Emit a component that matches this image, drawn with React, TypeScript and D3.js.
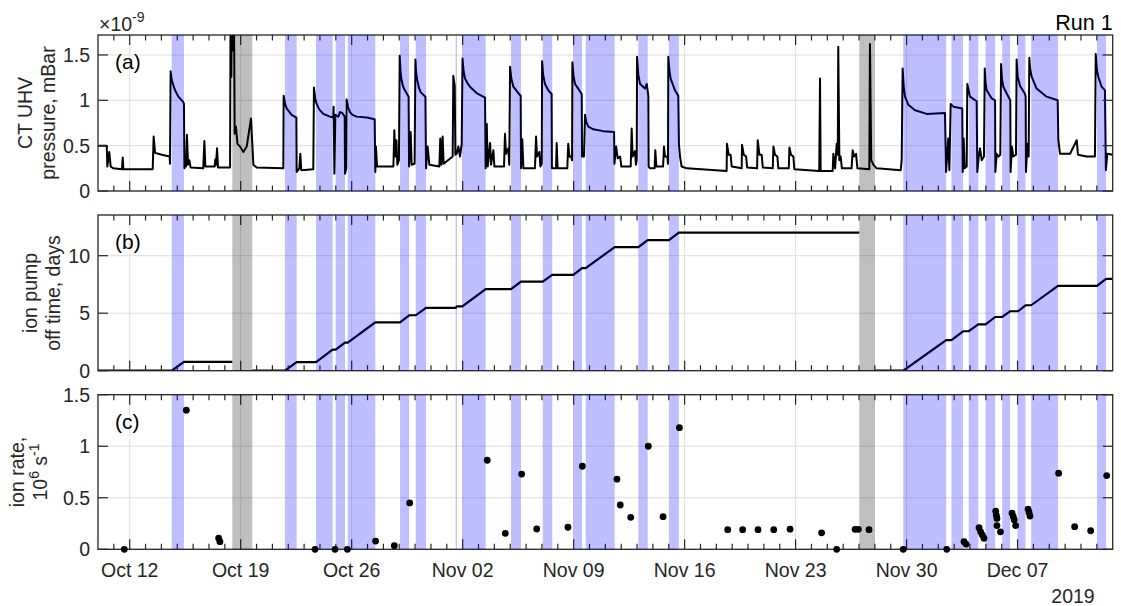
import React from "react";
import * as d3 from "d3";

const startMs = Date.UTC(2019, 9, 10);
const endMs = Date.UTC(2019, 11, 13);
const DAY = 86400000;
const toDate = (d: number) => new Date(startMs + d * DAY);

// shaded periods (days since Oct 10 2019)
const blueSpans: [number, number][] = [
  [4.65, 5.42], [11.79, 12.53], [13.75, 14.8], [14.99, 15.58], [15.75, 17.49],
  [19.05, 19.62], [20.04, 20.69], [22.56, 22.64], [22.98, 24.45], [26.05, 26.68],
  [28.05, 28.65], [29.98, 30.53], [30.76, 32.59], [34.08, 34.67], [36.01, 36.64],
  [50.79, 53.5], [53.83, 54.56], [54.92, 55.52], [55.98, 56.59], [57.03, 57.53],
  [58.03, 58.5], [58.86, 60.55], [63.01, 63.58],
];
const graySpans: [number, number][] = [[8.47, 9.73], [48.02, 49.01]];

// CT UHV pressure, units of 1e-9 mBar
const pressure: [number, number][] = [
  [0,0.50],[0.55,0.50],[0.59,0.27],[0.71,0.43],[0.80,0.27],[0.97,0.25],[1.51,0.24],[1.56,0.37],[1.60,0.24],[3.45,0.24],[3.51,0.60],[3.60,0.42],[4.02,0.40],[4.52,0.38],[4.54,0.30],[4.58,1.32],[4.63,1.25],[4.69,1.20],[4.78,1.15],[4.86,1.11],[5.07,1.04],[5.38,0.98],[5.42,0.96],[5.45,0.25],[5.51,0.38],[5.55,0.27],[5.61,0.62],[5.68,0.29],[5.76,0.34],[5.84,0.26],[6.64,0.25],[6.71,0.55],[6.77,0.27],[7.36,0.27],[7.40,0.35],[7.44,0.29],[7.51,0.47],[7.57,0.26],[8.33,0.26],[8.37,2.5],[8.41,1.26],[8.45,2.5],[8.50,1.55],[8.56,2.5],[8.62,0.63],[8.70,0.71],[8.80,0.52],[8.96,0.49],[9.17,0.43],[9.38,0.49],[9.65,0.80],[9.80,0.29],[10.01,0.26],[11.69,0.25],[11.71,1.05],[11.80,0.96],[11.90,0.91],[12.21,0.84],[12.51,0.81],[12.53,0.21],[12.70,0.25],[12.76,0.41],[12.82,0.23],[13.58,0.24],[13.62,1.14],[13.70,1.02],[13.79,0.96],[13.95,0.90],[14.21,0.85],[14.63,0.82],[14.84,0.81],[14.86,0.93],[14.91,0.19],[14.97,0.84],[15.16,0.82],[15.26,0.87],[15.41,0.86],[15.56,0.82],[15.58,0.19],[15.66,0.25],[15.68,1.01],[15.78,0.92],[15.89,0.87],[16.05,0.84],[16.31,0.82],[16.95,0.81],[17.45,0.79],[17.49,0.21],[17.53,0.49],[17.60,0.27],[18.63,0.27],[18.69,0.67],[18.75,0.38],[18.82,0.56],[18.88,0.29],[18.98,0.34],[19.03,1.49],[19.08,1.32],[19.15,1.22],[19.25,1.15],[19.36,1.11],[19.59,1.04],[19.62,0.27],[19.72,0.65],[19.78,0.29],[19.97,0.30],[20.02,1.45],[20.07,1.30],[20.14,1.22],[20.24,1.14],[20.35,1.09],[20.65,1.04],[20.69,0.25],[20.79,0.49],[20.90,0.29],[21.53,0.27],[21.59,0.58],[21.66,0.29],[21.74,0.60],[21.80,0.30],[22.37,0.38],[22.41,1.27],[22.50,1.16],[22.54,0.40],[22.62,0.41],[22.73,0.49],[22.83,0.38],[22.94,0.52],[22.99,1.46],[23.06,1.32],[23.15,1.24],[23.30,1.19],[23.46,1.15],[23.88,1.08],[24.41,1.03],[24.45,0.25],[24.52,0.74],[24.58,0.27],[24.73,0.53],[24.79,0.29],[24.94,0.45],[25.00,0.27],[25.61,0.27],[25.67,0.63],[25.73,0.41],[25.88,0.47],[25.94,0.29],[25.99,1.37],[26.07,1.24],[26.20,1.15],[26.51,1.08],[26.66,1.05],[26.68,0.25],[26.76,0.57],[26.83,0.25],[27.56,0.25],[27.63,0.60],[27.69,0.38],[27.84,0.43],[27.90,0.27],[27.99,0.30],[28.01,1.43],[28.08,1.28],[28.19,1.18],[28.40,1.11],[28.61,1.07],[28.63,0.25],[28.89,0.25],[28.93,0.53],[28.99,0.25],[29.60,0.25],[29.66,0.52],[29.73,0.38],[29.85,0.38],[29.90,0.34],[29.92,1.42],[29.99,1.27],[30.09,1.18],[30.36,1.11],[30.51,1.07],[30.53,0.38],[30.65,0.38],[30.72,0.84],[30.80,0.76],[30.93,0.71],[31.24,0.68],[31.87,0.66],[32.55,0.65],[32.57,0.30],[32.68,0.49],[32.78,0.36],[32.93,0.38],[33.01,0.27],[33.60,0.27],[33.66,0.69],[33.72,0.38],[33.87,0.44],[33.93,0.29],[33.98,0.34],[34.00,1.48],[34.08,1.28],[34.19,1.18],[34.50,1.13],[34.61,1.18],[34.71,1.05],[34.73,0.27],[34.82,0.25],[35.11,0.25],[35.15,0.45],[35.22,0.27],[35.64,0.27],[35.70,0.49],[35.76,0.38],[35.91,0.38],[35.95,0.30],[35.97,1.48],[36.04,1.33],[36.12,1.24],[36.39,1.11],[36.60,1.05],[36.64,0.52],[36.71,0.38],[36.81,0.27],[37.13,0.25],[39.65,0.22],[39.67,0.52],[39.78,0.40],[39.90,0.40],[39.97,0.27],[40.60,0.25],[40.62,0.51],[40.73,0.40],[40.88,0.38],[40.94,0.26],[41.57,0.25],[41.61,0.56],[41.72,0.40],[41.86,0.40],[41.93,0.26],[42.56,0.25],[42.60,0.49],[42.70,0.40],[42.85,0.38],[42.91,0.25],[43.57,0.25],[43.61,0.48],[43.71,0.40],[43.86,0.38],[43.92,0.24],[45.49,0.22],[45.54,1.24],[45.58,0.22],[46.34,0.22],[46.38,0.41],[46.49,0.25],[46.59,0.52],[46.66,0.40],[46.69,1.59],[46.76,0.34],[46.84,0.38],[46.92,0.25],[47.53,0.25],[47.60,0.45],[47.68,0.38],[47.81,0.41],[47.90,0.25],[48.65,0.24],[48.69,1.62],[48.77,0.34],[48.90,0.29],[49.11,0.25],[50.63,0.23],[50.69,0.34],[50.75,1.35],[50.82,1.15],[50.90,1.04],[51.11,0.95],[51.53,0.89],[52.27,0.85],[53.42,0.86],[53.49,0.21],[53.63,0.58],[53.70,0.23],[53.78,0.96],[53.95,0.93],[54.51,0.91],[54.54,0.21],[54.60,0.58],[54.66,0.25],[54.79,0.27],[54.83,1.18],[55.00,1.04],[55.42,0.99],[55.46,0.21],[55.55,0.38],[55.63,0.47],[55.74,0.34],[55.88,0.38],[55.93,1.35],[55.98,1.20],[56.05,1.11],[56.37,1.02],[56.58,1.00],[56.60,0.21],[56.68,0.41],[56.79,0.38],[56.91,0.40],[56.96,1.40],[57.02,1.23],[57.10,1.15],[57.42,1.04],[57.54,1.00],[57.56,0.21],[57.64,0.49],[57.73,0.38],[57.90,0.40],[57.94,1.45],[58.01,1.26],[58.15,1.16],[58.47,1.07],[58.51,1.04],[58.53,0.21],[58.62,0.52],[58.70,0.38],[58.74,1.47],[58.80,1.34],[58.89,1.26],[59.20,1.13],[59.83,1.04],[60.53,1.00],[60.57,0.56],[60.68,0.41],[61.31,0.41],[61.73,0.56],[61.81,0.40],[62.35,0.38],[62.88,0.38],[62.93,1.51],[63.00,1.34],[63.09,1.26],[63.30,1.15],[63.51,1.11],[63.57,0.23],[63.66,0.41],[64.0,0.40],
];

// ion pump off time, days (three separate runs of the counter)
const offTimeA: [number, number][] = [[0, 0], [4.65, 0], [5.42, 0.77], [8.47, 0.77]];
const offTimeB: [number, number][] = [
  [9.73, 0], [11.79, 0], [12.53, 0.75], [13.75, 0.75], [14.8, 1.83], [14.99, 1.83], [15.58, 2.45],
  [15.75, 2.45], [17.49, 4.2], [19.05, 4.2], [19.62, 4.82], [20.04, 4.82], [20.69, 5.47], [22.56, 5.47],
  [22.64, 5.6], [22.98, 5.6], [24.45, 7.1], [26.05, 7.1], [26.68, 7.75], [28.05, 7.75], [28.65, 8.33],
  [29.98, 8.33], [30.53, 8.92], [30.76, 8.92], [32.59, 10.75], [34.08, 10.75], [34.67, 11.36],
  [36.01, 11.36], [36.64, 12.0], [48.02, 12.0],
];
const offTimeC: [number, number][] = [
  [49.01, 0], [50.79, 0], [53.5, 2.66], [53.83, 2.66], [54.56, 3.43], [54.92, 3.43], [55.52, 4.03],
  [55.98, 4.03], [56.59, 4.67], [57.03, 4.67], [57.53, 5.17], [58.03, 5.17], [58.5, 5.69], [58.86, 5.69],
  [60.55, 7.37], [63.01, 7.37], [63.58, 7.98], [64, 7.98],
];

// ion rate, 1e6 / s
const ionRate: [number, number][] = [
  [1.66, 0], [5.57, 1.35], [7.61, 0.107], [7.69, 0.074], [13.69, 0], [14.95, 0], [15.73, 0], [17.51, 0.08],
  [18.69, 0.035], [19.66, 0.45], [24.55, 0.864], [25.69, 0.155], [26.72, 0.73], [27.67, 0.197],
  [29.64, 0.214], [30.55, 0.806], [32.73, 0.68], [32.94, 0.43], [33.6, 0.31], [34.71, 1.0], [35.64, 0.317],
  [36.67, 1.18], [39.72, 0.19], [40.66, 0.19], [41.63, 0.19], [42.62, 0.19], [43.65, 0.195], [45.64, 0.16],
  [46.59, 0], [47.75, 0.194], [47.96, 0.194], [48.63, 0.19], [50.79, 0], [53.53, 0], [54.62, 0.074],
  [54.75, 0.05], [55.57, 0.21], [55.67, 0.17], [55.77, 0.14], [55.88, 0.107], [56.62, 0.37], [56.66, 0.33],
  [56.7, 0.3], [56.7, 0.23], [56.92, 0.17], [57.65, 0.35], [57.73, 0.317], [57.79, 0.285], [57.88, 0.23],
  [58.66, 0.39], [58.72, 0.36], [58.78, 0.323], [60.59, 0.738], [61.6, 0.22], [62.61, 0.18], [63.62, 0.715],
];

const xTickLabels = ["Oct 12", "Oct 19", "Oct 26", "Nov 02", "Nov 09", "Nov 16", "Nov 23", "Nov 30", "Dec 07"];
const yTicksA = [0, 0.5, 1, 1.5];
const yTicksB = [0, 5, 10];
const yTicksC = [0, 0.5, 1, 1.5];

const W = 1121, H = 606;
const X0 = 98, X1 = 1112.7;
const FONT = "'Liberation Sans', Arial, Helvetica, sans-serif";
const FS = 19.5;
const AX = "#262626";

const x = d3.scaleUtc().domain([new Date(startMs), new Date(endMs)]).range([X0, X1]);
const majorDates = d3.utcDay.range(new Date(Date.UTC(2019, 9, 12)), new Date(endMs), 7);
const minorDates = d3.utcDay.range(new Date(startMs + DAY), new Date(endMs));
const fmt = d3.utcFormat("%b %d");

type PanelProps = {
  id: string; top: number; bottom: number; ymax: number; yTicks: number[]; label: string;
  children: (y: d3.ScaleLinear<number, number>) => React.ReactNode;
  xLabels?: boolean;
};

function Panel({ id, top, bottom, ymax, yTicks, label, children, xLabels }: PanelProps) {
  const y = d3.scaleLinear().domain([0, ymax]).range([bottom, top]);
  const majorTimes = new Set(majorDates.map((d) => d.getTime()));
  return (
    <g>
      <defs>
        <clipPath id={id}>
          <rect x={X0} y={top} width={X1 - X0} height={bottom - top} />
        </clipPath>
      </defs>
      {majorDates.map((d, i) => (
        <line key={"gx" + i} x1={x(d)} x2={x(d)} y1={top} y2={bottom} stroke="#dfdfdf" strokeWidth={1} />
      ))}
      {yTicks.map((t, i) => (
        <line key={"gy" + i} x1={X0} x2={X1} y1={y(t)} y2={y(t)} stroke="#dfdfdf" strokeWidth={1} />
      ))}
      <g clipPath={`url(#${id})`}>{children(y)}</g>
      {minorDates.filter((d) => !majorTimes.has(d.getTime())).map((d, i) => (
        <g key={"mt" + i}>
          <line x1={x(d)} x2={x(d)} y1={bottom} y2={bottom - 5.5} stroke={AX} strokeWidth={1.2} />
          <line x1={x(d)} x2={x(d)} y1={top} y2={top + 5.5} stroke={AX} strokeWidth={1.2} />
        </g>
      ))}
      {majorDates.map((d, i) => (
        <g key={"Mt" + i}>
          <line x1={x(d)} x2={x(d)} y1={bottom} y2={bottom - 10} stroke={AX} strokeWidth={1.2} />
          <line x1={x(d)} x2={x(d)} y1={top} y2={top + 10} stroke={AX} strokeWidth={1.2} />
        </g>
      ))}
      {yTicks.map((t, i) => (
        <g key={"yt" + i}>
          <line x1={X0} x2={X0 + 10} y1={y(t)} y2={y(t)} stroke={AX} strokeWidth={1.2} />
          <line x1={X1} x2={X1 - 10} y1={y(t)} y2={y(t)} stroke={AX} strokeWidth={1.2} />
          <text x={90} y={y(t)} dy="0.36em" textAnchor="end" fontSize={FS} fill={AX} fontFamily={FONT}>
            {String(t)}
          </text>
        </g>
      ))}
      <rect x={X0} y={top} width={X1 - X0} height={bottom - top} fill="none" stroke={AX} strokeWidth={1.3} />
      {blueSpans.map((s, i) => (
        <rect key={"b" + i} x={x(toDate(s[0]))} y={top} width={x(toDate(s[1])) - x(toDate(s[0]))}
          height={bottom - top} fill="#0000ff" fillOpacity={0.25} />
      ))}
      {graySpans.map((s, i) => (
        <rect key={"g" + i} x={x(toDate(s[0]))} y={top} width={x(toDate(s[1])) - x(toDate(s[0]))}
          height={bottom - top} fill="#000000" fillOpacity={0.25} />
      ))}
      <text x={115} y={top + 34} fontSize={21} fill="#000" fontFamily={FONT}>{label}</text>
      {xLabels &&
        majorDates.map((d, i) => (
          <text key={"xl" + i} x={x(d)} y={576.5} textAnchor="middle" fontSize={FS} fill={AX} fontFamily={FONT}>
            {xTickLabels[i] ?? fmt(d)}
          </text>
        ))}
    </g>
  );
}

export default function App() {
  const line = (y: d3.ScaleLinear<number, number>) =>
    d3.line<[number, number]>().x((d) => x(toDate(d[0]))).y((d) => y(d[1]));
  return (
    <svg width={W} height={H} style={{ position: "absolute", left: 0, top: 0, background: "#fff" }}
      fontFamily={FONT}>
      <rect x={0} y={0} width={W} height={H} fill="#fff" />
      <Panel id="clipA" top={35} bottom={191} ymax={1.72} yTicks={yTicksA} label="(a)">
        {(y) => <path d={line(y)(pressure) ?? ""} fill="none" stroke="#000" strokeWidth={2} strokeLinejoin="round" />}
      </Panel>
      <Panel id="clipB" top={215} bottom={370.7} ymax={13.54} yTicks={yTicksB} label="(b)">
        {(y) => (
          <g>
            {[offTimeA, offTimeB, offTimeC].map((s, i) => (
              <path key={i} d={line(y)(s) ?? ""} fill="none" stroke="#000" strokeWidth={2.2} />
            ))}
          </g>
        )}
      </Panel>
      <Panel id="clipC" top={394.7} bottom={549.3} ymax={1.5} yTicks={yTicksC} label="(c)" xLabels>
        {() => null}
      </Panel>
      {(() => {
        const y = d3.scaleLinear().domain([0, 1.5]).range([549.3, 394.7]);
        return ionRate.map((d, i) => <circle key={i} cx={x(toDate(d[0]))} cy={y(d[1])} r={3.4} fill="#000" />);
      })()}
      <text x={99} y={31} fontSize={FS} fill={AX}>
        ×10<tspan dy={-9} fontSize={14}>-9</tspan>
      </text>
      <text x={X1} y={30} textAnchor="end" fontSize={21.5} fill="#000">Run 1</text>
      <text x={1073} y={602.5} textAnchor="middle" fontSize={FS} fill={AX}>2019</text>
      <g transform="translate(32,113) rotate(-90)">
        <text textAnchor="middle" fontSize={FS} fill={AX}>CT UHV</text>
      </g>
      <g transform="translate(55,113) rotate(-90)">
        <text textAnchor="middle" fontSize={FS} fill={AX}>pressure, mBar</text>
      </g>
      <g transform="translate(37,293) rotate(-90)">
        <text textAnchor="middle" fontSize={FS} fill={AX}>ion pump</text>
      </g>
      <g transform="translate(60,293) rotate(-90)">
        <text textAnchor="middle" fontSize={FS} fill={AX}>off time, days</text>
      </g>
      <g transform="translate(24,472) rotate(-90)">
        <text textAnchor="middle" fontSize={FS} fill={AX}>ion rate,</text>
      </g>
      <g transform="translate(47,472) rotate(-90)">
        <text textAnchor="middle" fontSize={FS} fill={AX}>
          10<tspan dy={-8} fontSize={14}>6</tspan><tspan dy={8}> s</tspan><tspan dy={-8} fontSize={14}>-1</tspan>
        </text>
      </g>
    </svg>
  );
}
